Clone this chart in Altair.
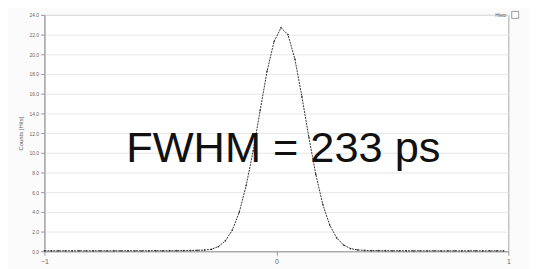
import altair as alt
import pandas as pd

# time axis (ns), sampled every 0.03 ns
times = [round(-1.00 + 0.03 * i, 2) for i in range(67)]
counts = [
    0.04, 0.05, 0.04, 0.05, 0.04, 0.05, 0.04, 0.05, 0.05, 0.04,
    0.05, 0.05, 0.05, 0.05, 0.05, 0.05, 0.06, 0.05, 0.06, 0.06,
    0.07, 0.08, 0.10, 0.12, 0.20, 0.48, 1.06, 2.15, 3.96, 6.70,
    10.2, 14.3, 18.3, 21.3, 22.7, 22.0, 19.5, 15.7, 11.6, 7.8,
    4.76, 2.66, 1.35, 0.63, 0.27, 0.14, 0.09, 0.07, 0.06, 0.06,
    0.05, 0.05, 0.05, 0.04, 0.05, 0.04, 0.05, 0.04, 0.04, 0.05,
    0.04, 0.04, 0.05, 0.04, 0.04, 0.05, 0.04,
]
times = times[:len(counts)]
y_ticks = [0, 2, 4, 6, 8, 10, 12, 14, 16, 18, 20, 22, 24]
x_ticks = [-1, 0, 1]
annotation = "FWHM = 233 ps"
legend_label = "Histo"

df = pd.DataFrame({"t": times, "c": counts})

x = alt.X("t:Q", scale=alt.Scale(domain=[-1, 1], nice=False),
          axis=alt.Axis(values=x_ticks, labelExpr="format(datum.value, '.0f')",
                        title=None, grid=False,
                        labelFontSize=7, labelColor="#666666", tickColor="#999999",
                        domainColor="#999999", tickSize=4, labelPadding=2,
                        labelOverlap=False, labelFlush=False))
y = alt.Y("c:Q", scale=alt.Scale(domain=[0, 24], nice=False),
          axis=alt.Axis(values=y_ticks, tickCount=13, format=".1f", title="Counts [Hits]",
                        titleFontSize=6, titleFontWeight="normal", titleColor="#666666",
                        titlePadding=6, labelFontSize=5, labelColor="#666666",
                        gridColor="#e6e6e6", tickColor="#999999", domainColor="#999999",
                        tickSize=4, labelPadding=2, labelOverlap=False, labelFlush=False))

base = alt.Chart(df).encode(x=x, y=y)
line = base.mark_line(color="#333333", strokeWidth=1, strokeDash=[2, 1])
pts = base.mark_point(color="#222222", filled=True, size=3, opacity=0.8)

ann = alt.Chart(pd.DataFrame({"t": [0.03], "c": [10.4], "s": [annotation]})).mark_text(
    font="Liberation Sans", fontSize=44, color="#111111", align="center", baseline="middle"
).encode(x=x, y=y, text="s:N")

leg_text = alt.Chart(pd.DataFrame({"s": [legend_label]})).mark_text(
    fontSize=5, color="#555555", align="right", baseline="middle"
).encode(x=alt.value(469), y=alt.value(0), text="s:N")
leg_box = alt.Chart(pd.DataFrame({"s": [legend_label]})).mark_square(
    size=50, filled=False, color="#555555", strokeWidth=0.8
).encode(x=alt.value(478), y=alt.value(0))

chart = alt.layer(line, pts, ann, leg_text, leg_box).properties(
    width=471, height=240,
    autosize=alt.AutoSizeParams(type="none"),
    padding={"left": 37, "top": 5, "right": 21, "bottom": 16},
    background="#fbfbfb",
).configure_view(stroke="#aaaaaa", fill="white")

chart.save("out.html", embed_options={"renderer": "svg", "actions": False})
